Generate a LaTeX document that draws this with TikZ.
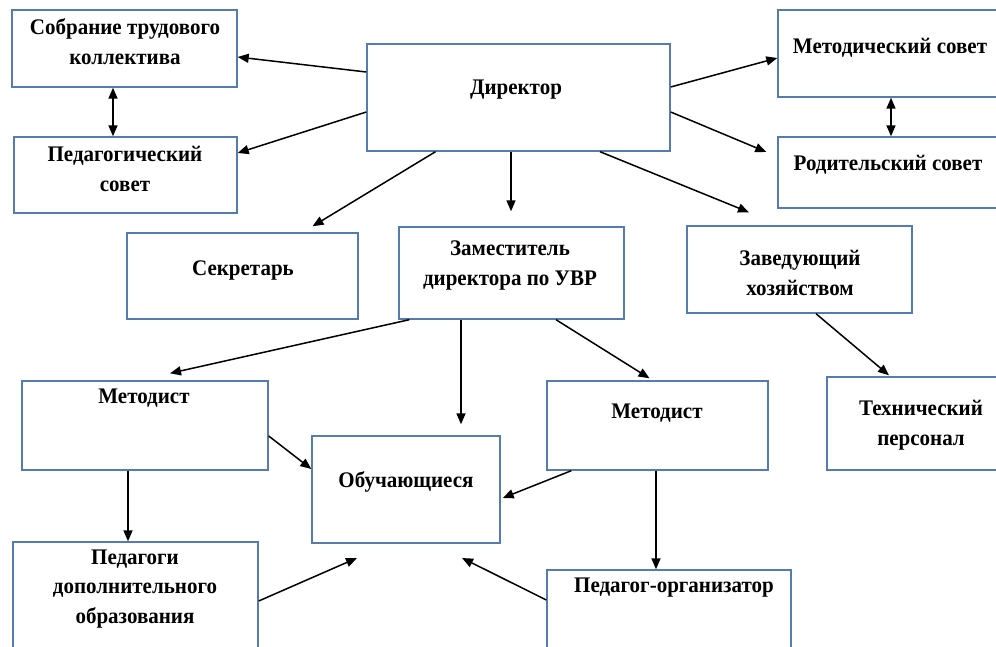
\documentclass[tikz,border=0pt]{standalone}
\usepackage{fontspec}
\setmainfont{Liberation Serif}
\usetikzlibrary{arrows.meta, positioning}
\definecolor{BoxBlue}{RGB}{84,124,176}

\begin{document}
\begin{tikzpicture}[
    x=1pt, y=-1pt,
    box/.style={rectangle, draw=BoxBlue, line width=1.4pt, inner sep=0pt},
    txt/.style={inner sep=0pt, align=center, yscale=1.06, font=\fontsize{21}{28}\selectfont\bfseries},
    arrow/.style={-{Triangle[length=11pt, width=9pt]}, line width=1.5pt},
    dblarrow/.style={{Triangle[length=11pt, width=9pt]}-{Triangle[length=11pt, width=9pt]}, line width=1.5pt}
]
\useasboundingbox (0,0) rectangle (996,647);
\clip (0,0) rectangle (996,647);

% Top level
\node[box, minimum width=303pt, minimum height=107pt] (director) at (518.5,97.5) {};
\node[txt] (directorT) at (516,90) {Директор};

% Councils
\node[box, minimum width=225pt, minimum height=77pt] (sobranie) at (124.5,48.5) {};
\node[txt] (sobranieT) at (125,41.5) {Собрание трудового\\коллектива};
\node[box, minimum width=223pt, minimum height=76pt] (pedsovet) at (125.5,175) {};
\node[txt] (pedsovetT) at (125,169) {Педагогический\\совет};
\node[box, minimum width=232pt, minimum height=87pt] (metsovet) at (894,53.5) {};
\node[txt] (metsovetT) at (890,48) {Методический совет};
\node[box, minimum width=232pt, minimum height=71pt] (rodsovet) at (894,172.5) {};
\node[txt] (rodsovetT) at (888,165) {Родительский совет};

% Second level
\node[box, minimum width=231pt, minimum height=86pt] (sekretar) at (242.5,276) {};
\node[txt] (sekretarT) at (243,270) {Секретарь};
\node[box, minimum width=225pt, minimum height=92pt] (zam) at (511.5,273) {};
\node[txt] (zamT) at (510,265.5) {Заместитель\\директора по УВР};
\node[box, minimum width=225pt, minimum height=87pt] (zavhoz) at (799.5,269.5) {};
\node[txt] (zavhozT) at (800,273) {Заведующий\\хозяйством};

% Third level
\node[box, minimum width=246pt, minimum height=89pt] (metL) at (145,425.5) {};
\node[txt] (metLT) at (144,398) {Методист};
\node[box, minimum width=188pt, minimum height=107pt] (obuch) at (406,489.5) {};
\node[txt] (obuchT) at (406,482) {Обучающиеся};
\node[box, minimum width=221pt, minimum height=89pt] (metR) at (657.5,425.5) {};
\node[txt] (metRT) at (657,413) {Методист};
\node[box, minimum width=183pt, minimum height=93pt] (tech) at (918.5,423.5) {};
\node[txt] (techT) at (921,425) {Технический\\персонал};

% Bottom level
\node[box, minimum width=245pt, minimum height=118pt] (peddop) at (135.5,601) {};
\node[txt] (peddopT) at (135,589) {Педагоги\\дополнительного\\образования};
\node[box, minimum width=244pt, minimum height=90pt] (pedorg) at (669,615) {};
\node[txt] (pedorgT) at (674,588) {Педагог-организатор};

% Free ends
\coordinate (obuchL) at (357,558);
\coordinate (obuchR) at (462,558);

% Arrows from director
\draw[arrow] ([yshift=25.5pt]director.west) -- ([yshift=-8.5pt]sobranie.east);
\draw[arrow] ([yshift=-14.5pt]director.west) -- ([yshift=22pt]pedsovet.east);
\draw[arrow] ([xshift=-83pt]director.south) -- ([xshift=70pt, yshift=6pt]sekretar.north);
\draw[arrow] ([xshift=-7.5pt]director.south) -- ([xshift=-0.5pt, yshift=15pt]zam.north);
\draw[arrow] ([yshift=10.5pt]director.east) -- ([yshift=-4.5pt]metsovet.west);
\draw[arrow] ([yshift=-14.5pt]director.east) -- ([xshift=-11pt, yshift=20.5pt]rodsovet.west);
\draw[arrow] ([xshift=81.5pt]director.south) -- ([xshift=-50.5pt, yshift=13pt]zavhoz.north);

% Mutual links
\draw[dblarrow] ([xshift=-11.5pt]sobranie.south) -- ([xshift=-12.5pt]pedsovet.north);
\draw[dblarrow] ([xshift=-3pt]metsovet.south) -- ([xshift=-3pt]rodsovet.north);

% Arrows from deputy and household manager
\draw[arrow] ([xshift=11pt]zam.south west) -- ([xshift=25pt, yshift=7pt]metL.north);
\draw[arrow] ([xshift=-50.5pt]zam.south) -- ([xshift=55pt, yshift=11pt]obuch.north);
\draw[arrow] ([xshift=44.5pt]zam.south) -- ([xshift=-8pt, yshift=2pt]metR.north);
\draw[arrow] ([xshift=16.5pt]zavhoz.south) -- ([xshift=-29.5pt, yshift=1pt]tech.north);

% Arrows from methodists
\draw[arrow] ([yshift=-10.5pt]metL.east) -- ([yshift=20.5pt]obuch.west);
\draw[arrow] ([xshift=-17pt]metL.south) -- ([xshift=-7.5pt]peddop.north);
\draw[arrow] ([xshift=25pt]metR.south west) -- ([xshift=2pt, yshift=-8.5pt]obuch.east);
\draw[arrow] ([xshift=-1.5pt]metR.south) -- ([xshift=-13pt]pedorg.north);

% Arrows to the students from below
\draw[arrow] (peddop.east) -- (obuchL);
\draw[arrow] ([yshift=15pt]pedorg.west) -- (obuchR);

\end{tikzpicture}
\end{document}
